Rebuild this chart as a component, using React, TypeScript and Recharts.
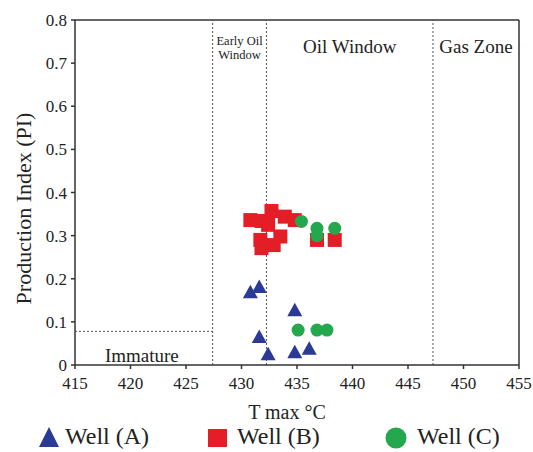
import React from 'react';
import {
  ScatterChart,
  Scatter,
  XAxis,
  YAxis,
  ReferenceLine,
  ReferenceArea,
} from 'recharts';

const tmaxTicks = [415, 420, 425, 430, 435, 440, 445, 450, 455];
const piTicks = [0, 0.1, 0.2, 0.3, 0.4, 0.5, 0.6, 0.7, 0.8];

// zone boundaries (Tmax) and immature PI limit
const zoneBounds = [427.4, 432.25, 447.25];
const immaturePi = 0.078;

const wellATmax = [430.8, 431.6, 431.6, 432.4, 434.8, 434.8, 436.1];
const wellAPi = [0.17, 0.182, 0.066, 0.026, 0.128, 0.031, 0.039];

const wellBTmax = [430.8, 431.8, 432.4, 432.7, 433.9, 434.8, 431.7, 431.8, 432.9, 433.5, 436.8, 438.4];
const wellBPi = [0.336, 0.334, 0.325, 0.357, 0.344, 0.336, 0.29, 0.271, 0.278, 0.298, 0.29, 0.29];

const wellCTmax = [435.4, 436.8, 436.8, 438.4, 435.1, 436.8, 437.7];
const wellCPi = [0.333, 0.317, 0.3, 0.317, 0.081, 0.081, 0.081];

const BLUE = '#2b3a94';
const RED = '#e31e26';
const GREEN = '#23a84e';
const FONT = 'Liberation Serif, DejaVu Serif, serif';

const toPoints = (xs: number[], ys: number[]) => xs.map((x, i) => ({ tmax: x, pi: ys[i] }));

const wellA = toPoints(wellATmax, wellAPi);
const wellB = toPoints(wellBTmax, wellBPi);
const wellC = toPoints(wellCTmax, wellCPi);

const Triangle = (p: any) => (
  <polygon
    points={`${p.cx},${p.cy - 7} ${p.cx + 7.5},${p.cy + 6.5} ${p.cx - 7.5},${p.cy + 6.5}`}
    fill={BLUE}
  />
);
const Square = (p: any) => <rect x={p.cx - 7} y={p.cy - 7} width={14} height={14} fill={RED} />;
const Dot = (p: any) => <circle cx={p.cx} cy={p.cy} r={6.5} fill={GREEN} />;

const zoneLabel = (text: string) => (props: any) => {
  const vb = props.viewBox;
  return (
    <text
      x={vb.x + vb.width / 2}
      y={vb.y + 33}
      textAnchor="middle"
      style={{ fontFamily: FONT }}
      fontSize={19}
      fill="#222"
    >
      {text}
    </text>
  );
};

const earlyLabel = (props: any) => {
  const vb = props.viewBox;
  const cx = vb.x + vb.width / 2;
  return (
    <text textAnchor="middle" style={{ fontFamily: FONT }} fontSize={12.5} fill="#222">
      <tspan x={cx} y={vb.y + 25}>Early Oil</tspan>
      <tspan x={cx} y={vb.y + 39}>Window</tspan>
    </text>
  );
};

const immatureLabel = (props: any) => {
  const vb = props.viewBox;
  return (
    <text
      x={vb.x + vb.width / 2 - 2}
      y={vb.y + vb.height - 3}
      textAnchor="middle"
      style={{ fontFamily: FONT }}
      fontSize={19}
      fill="#222"
    >
      Immature
    </text>
  );
};

const tickStyle = { fontFamily: FONT, fontSize: 17, fill: '#222' };

export default function App() {
  return (
    <div style={{ position: 'relative', width: 533, height: 452, background: '#fff', fontFamily: FONT }}>
      <style>{'body{margin:0}'}</style>
      <div style={{ position: 'absolute', left: 8, top: 8, width: 525, height: 444 }}>
        <ScatterChart width={525} height={414} margin={{ top: 12, right: 14, left: 0, bottom: 0 }} style={{ fontFamily: FONT }}>
          <XAxis
            type="number"
            dataKey="tmax"
            domain={[415, 455]}
            ticks={tmaxTicks}
            height={57}
            tick={tickStyle}
            tickSize={4}
            tickMargin={8}
            stroke="#333"
            strokeWidth={1.5}
            allowDataOverflow
            label={{
              content: (props: any) => {
                const vb = props.viewBox;
                return (
                  <text
                    x={vb.x + vb.width / 2 - 10}
                    y={vb.y + 54}
                    textAnchor="middle"
                    style={{ fontFamily: FONT }}
                    fontSize={20}
                    fill="#222"
                  >
                    T max °C
                  </text>
                );
              },
            }}
          />
          <YAxis
            type="number"
            dataKey="pi"
            domain={[0, 0.8]}
            ticks={piTicks}
            width={67}
            tick={tickStyle}
            tickSize={4}
            tickMargin={4}
            stroke="#333"
            strokeWidth={1.5}
            allowDataOverflow
            label={{
              content: (props: any) => {
                const vb = props.viewBox;
                const x = 15;
                const y = vb.y + vb.height / 2 + 16;
                return (
                  <text
                    x={x}
                    y={y}
                    transform={`rotate(-90 ${x} ${y})`}
                    textAnchor="middle"
                    dominantBaseline="central"
                    style={{ fontFamily: FONT }}
                    fontSize={22}
                    fill="#222"
                  >
                    Production Index (PI)
                  </text>
                );
              },
            }}
          />

          <ReferenceLine y={0.8} stroke="#333" strokeWidth={1.5} />
          <ReferenceLine x={455} stroke="#333" strokeWidth={1.5} />

          {zoneBounds.map((b) => (
            <ReferenceLine key={b} x={b} stroke="#555" strokeWidth={1} strokeDasharray="2 2" />
          ))}
          <ReferenceLine
            segment={[
              { x: 415, y: immaturePi },
              { x: zoneBounds[0], y: immaturePi },
            ]}
            stroke="#555"
            strokeWidth={1}
            strokeDasharray="2 2"
          />

          <ReferenceArea x1={zoneBounds[0]} x2={zoneBounds[1]} y1={0.7} y2={0.8} fill="none" stroke="none" label={{ content: earlyLabel }} />
          <ReferenceArea x1={zoneBounds[1]} x2={zoneBounds[2]} y1={0.7} y2={0.8} fill="none" stroke="none" label={{ content: zoneLabel('Oil Window') }} />
          <ReferenceArea x1={zoneBounds[2]} x2={455} y1={0.7} y2={0.8} fill="none" stroke="none" label={{ content: zoneLabel('Gas Zone') }} />
          <ReferenceArea x1={415} x2={zoneBounds[0]} y1={0} y2={immaturePi} fill="none" stroke="none" label={{ content: immatureLabel }} />

          <Scatter name="Well (A)" data={wellA} shape={Triangle} isAnimationActive={false} />
          <Scatter name="Well (B)" data={wellB} shape={Square} isAnimationActive={false} />
          <Scatter name="Well (C)" data={wellC} shape={Dot} isAnimationActive={false} />
        </ScatterChart>

        <svg style={{ position: 'absolute', left: 0, top: 414 }} width={525} height={30}>
          <polygon points="41,5 51,25 31,25" fill={BLUE} />
          <rect x={200} y={7} width={19} height={18} fill={RED} />
          <circle cx={388} cy={16} r={10.5} fill={GREEN} />
        </svg>
        {[
          { left: 57, text: 'Well (A)' },
          { left: 229, text: 'Well (B)' },
          { left: 409, text: 'Well (C)' },
        ].map((l) => (
          <div
            key={l.text}
            style={{
              position: 'absolute',
              left: l.left,
              top: 415,
              fontSize: 24,
              lineHeight: '27px',
              color: '#222',
              whiteSpace: 'nowrap',
            }}
          >
            {l.text}
          </div>
        ))}
      </div>
    </div>
  );
}
